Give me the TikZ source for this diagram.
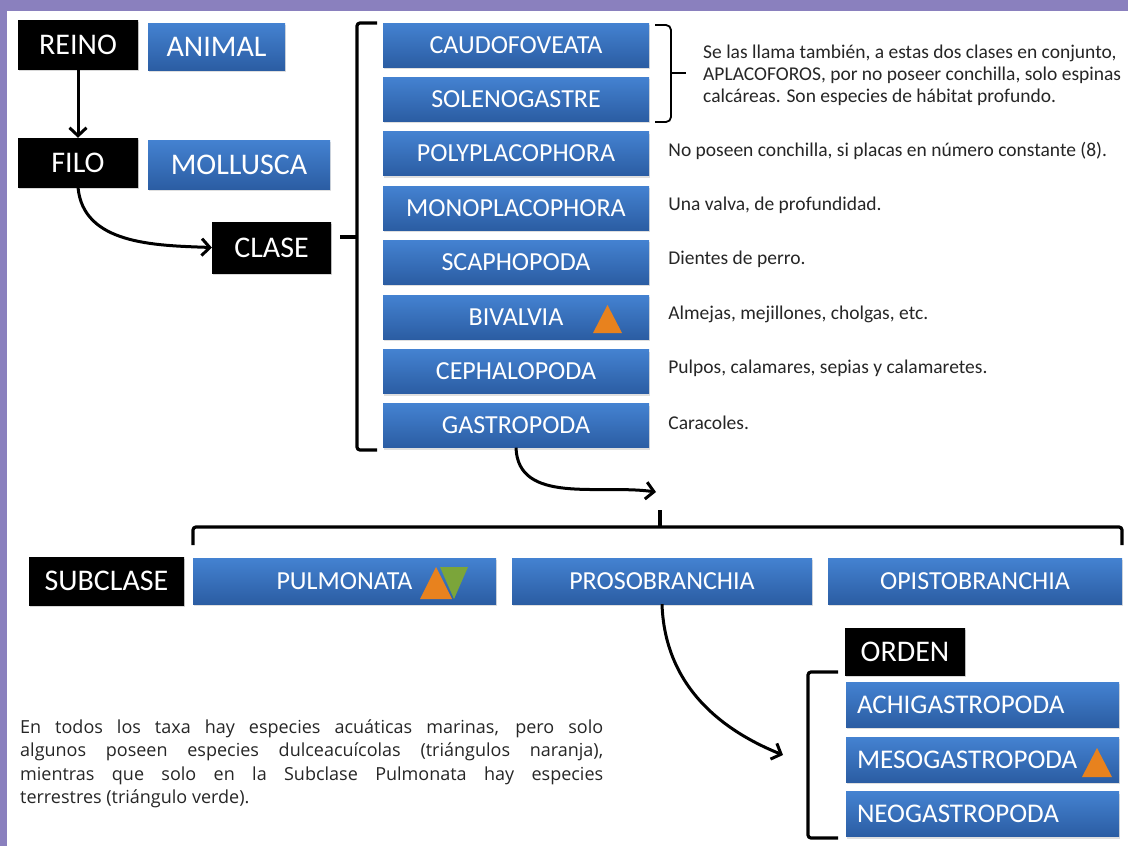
\documentclass[tikz,border=0pt]{standalone}
\usepackage{fontspec}
\setmainfont{Carlito}
\newfontfamily\notafont{Open Sans}
\usepackage{tikz}
\usetikzlibrary{arrows.meta,shadows,positioning}
\definecolor{marcoLila}{HTML}{8A80BE}
\definecolor{azulClaro}{HTML}{4482D1}
\definecolor{azulOscuro}{HTML}{2B5DA3}
\definecolor{naranja}{HTML}{E8821E}
\definecolor{verde}{HTML}{7BA53A}
\pgfdeclareverticalshading{cajanegra}{100bp}{color(0bp)=(black); color(80bp)=(black); color(100bp)=(black!50)}

\tikzset{
  rango/.style={shading=cajanegra, text=white,
    inner sep=0pt, minimum height=49pt, font=\fontsize{30}{31}\selectfont,
    drop shadow={opacity=0.3, shadow xshift=1pt, shadow yshift=-2pt}},
  taxon/.style={top color=azulClaro, bottom color=azulOscuro, text=white,
    inner sep=0pt, minimum height=44pt, font=\fontsize{26}{27}\selectfont,
    drop shadow={opacity=0.25, shadow xshift=1pt, shadow yshift=-2pt}},
  orden/.style={taxon, text width=251pt, inner xsep=11pt, align=left, minimum height=45pt,
    font=\fontsize{27}{28}\selectfont},
  nota/.style={font=\fontsize{19.5}{22}\selectfont, text=black!85, inner sep=0pt},
  flecha/.style={line width=3pt, -{Straight Barb[length=8pt,width=17pt]}},
  corchete/.style={line width=3.2pt, rounded corners=3pt},
  llave/.style={line width=1.8pt, rounded corners=5pt}
}

\begin{document}
\begin{tikzpicture}[x=1pt,y=-1pt]
  \useasboundingbox (0,0) rectangle (1128,846);
  \fill[white] (0,0) rectangle (1128,846);
  \fill[marcoLila] (0,0) rectangle (1128,11);
  \fill[marcoLila] (0,0) rectangle (7,846);

  % reino, filo, clase
  \node[rango, minimum width=120pt] (reino) at (78,44.5) {REINO};
  \node[taxon, minimum width=137pt, minimum height=47pt, font=\fontsize{30}{31}\selectfont] (animal) at (216.5,46.5) {ANIMAL};
  \node[rango, minimum width=120pt] (filo) at (78,162.5) {FILO};
  \node[taxon, minimum width=182pt, minimum height=49pt, font=\fontsize{30}{31}\selectfont] (mollusca) at (239,164.5) {MOLLUSCA};
  \node[rango, minimum width=119pt, minimum height=51pt] (clase) at (271.5,247.5) {CLASE};

  \draw[flecha] (reino) -- (filo);
  \draw[flecha] (filo.south) to[out=-85, in=178] (clase.west);

  % clases
  \foreach \nombre/\y/\texto in {caudo/45/CAUDOFOVEATA, soleno/99/SOLENOGASTRE,
      poly/153.5/POLYPLACOPHORA, mono/208/MONOPLACOPHORA, scapho/262/SCAPHOPODA,
      bival/317/BIVALVIA, cephalo/371.5/CEPHALOPODA, gastro/425.5/GASTROPODA}
    \node[taxon, minimum width=266pt] (\nombre) at (516,\y) {\texto};

  \draw[corchete] (377,23) -- (357,23) -- (357,450) -- (377,450);
  \draw[corchete] (357,237) -- (340,237);

  \draw[llave] (655,25) -- (671,25) -- (671,122) -- (655,122);
  \draw[line width=1.8pt] (671,73) -- (686,73);
  \node[nota, anchor=west, align=left] (aplaco) at (703,75)
    {Se las llama también, a estas dos clases en conjunto,\\
     APLACOFOROS, por no poseer conchilla, solo espinas\\
     calcáreas. Son especies de hábitat profundo.};

  \node[nota, right=19pt of poly, yshift=3pt] (dpoly) {No poseen conchilla, si placas en número constante (8).};
  \node[nota, right=19pt of mono, yshift=3pt] (dmono) {Una valva, de profundidad.};
  \node[nota, right=19pt of scapho, yshift=3pt] (dscapho) {Dientes de perro.};
  \node[nota, right=19pt of bival, yshift=3pt] (dbival) {Almejas, mejillones, cholgas, etc.};
  \node[nota, right=19pt of cephalo, yshift=3pt] (dcephalo) {Pulpos, calamares, sepias y calamaretes.};
  \node[nota, right=19pt of gastro, yshift=3pt] (dgastro) {Caracoles.};

  \fill[naranja] (593,333) -- (607.5,305) -- (622,333) -- cycle;

  % subclases
  \coordinate (llegada) at (656,492);
  \draw[flecha] (gastro.south) to[out=-88, in=172] (llegada);
  \draw[corchete] (193,545) -- (193,527) -- (1122,527) -- (1122,545);
  \draw[corchete] (660,527) -- (660,510);

  \node[rango, minimum width=155pt, minimum height=48pt] (subclase) at (106.5,581) {SUBCLASE};
  \node[taxon, minimum width=303pt, minimum height=46pt] (pulmo) at (344.5,581) {PULMONATA\hspace{62pt}};
  \node[taxon, minimum width=300pt, minimum height=46pt] (proso) at (662,581) {PROSOBRANCHIA};
  \node[taxon, minimum width=294pt, minimum height=46pt] (opisto) at (975,581) {OPISTOBRANCHIA};
  \fill[naranja] (420,599) -- (436,567) -- (452,599) -- cycle;
  \fill[verde] (440,567) -- (468,567) -- (454,599) -- cycle;

  % ordenes
  \node[rango, minimum width=120pt, minimum height=47pt] (ordenlbl) at (905,651.5) {ORDEN};
  \node[orden] (achi) at (982.5,704.5) {ACHIGASTROPODA};
  \node[orden] (meso) at (982.5,759.5) {MESOGASTROPODA};
  \node[orden] (neo) at (982.5,814) {NEOGASTROPODA};
  \fill[naranja] (1082,777) -- (1097,748) -- (1112,777) -- cycle;

  \draw[corchete] (838,672) -- (808,672) -- (808,838) -- (838,838);
  \coordinate (haciaorden) at (783,755);
  \draw[flecha] (proso.south) to[out=-88, in=158] (haciaorden);

  \node[anchor=west, text width=583pt, align=justify, inner sep=0pt,
    font=\notafont\fontsize{18}{23.5}\selectfont, text=black!85] (leyenda) at (20,764)
    {En todos los taxa hay especies acuáticas marinas, pero solo\linebreak
     algunos poseen especies dulceacuícolas (triángulos naranja),\linebreak
     mientras que solo en la Subclase Pulmonata hay especies\linebreak
     terrestres (triángulo verde).};
\end{tikzpicture}
\end{document}
